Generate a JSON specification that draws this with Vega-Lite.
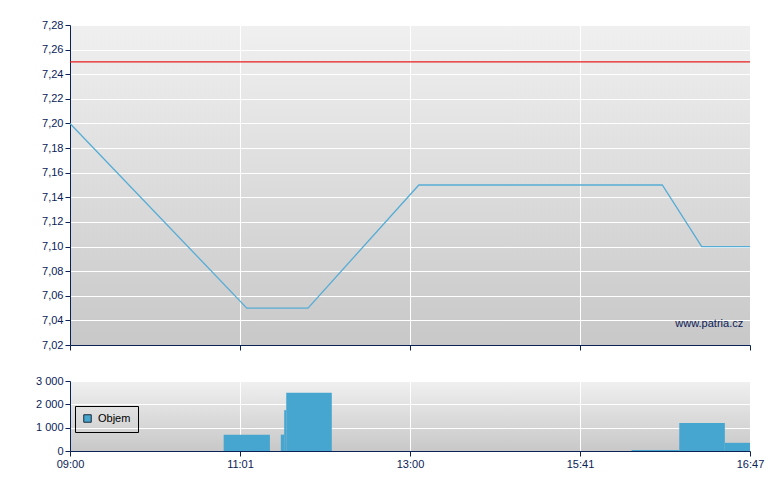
{
  "$schema": "https://vega.github.io/schema/vega-lite/v6.json",
  "background": "#ffffff",
  "padding": {"left": 34, "top": 19, "right": 5, "bottom": 5},
  "spacing": 24,
  "config": {
    "font": "Liberation Sans",
    "view": {"stroke": null},
    "axis": {
      "domainColor": "#0b2257",
      "tickColor": "#0b2257",
      "labelColor": "#0b2257",
      "labelFont": "Liberation Sans",
      "labelFontSize": 11,
      "labelOverlap": false,
      "labelFlush": false,
      "gridColor": "#ffffff",
      "gridOpacity": 1,
      "gridWidth": 1,
      "tickSize": 5,
      "domainWidth": 1,
      "title": null
    }
  },
  "datasets": {
    "price": [
      {"pos": 0, "price": 7.20},
      {"pos": 26.0, "price": 7.05},
      {"pos": 35.0, "price": 7.05},
      {"pos": 51.3, "price": 7.15},
      {"pos": 87.1, "price": 7.15},
      {"pos": 92.9, "price": 7.10},
      {"pos": 100, "price": 7.10}
    ],
    "volume": [
      {"start": 22.6, "end": 29.4, "volume": 700},
      {"start": 31.0, "end": 31.5, "volume": 700},
      {"start": 31.5, "end": 31.8, "volume": 1750},
      {"start": 31.8, "end": 38.5, "volume": 2500},
      {"start": 82.6, "end": 89.6, "volume": 40},
      {"start": 89.6, "end": 96.3, "volume": 1200},
      {"start": 96.3, "end": 100, "volume": 350}
    ]
  },
  "resolve": {"legend": {"color": "independent"}},
  "vconcat": [
    {
      "width": 680,
      "height": 320,
      "view": {
        "stroke": null,
        "fill": {"gradient": "linear", "x1": 0, "y1": 0, "x2": 0, "y2": 1,
          "stops": [{"offset": 0, "color": "#f0f0f0"}, {"offset": 1, "color": "#c8c8c8"}]}
      },
      "layer": [
        {
          "data": {"name": "price"},
          "mark": {"type": "line", "color": "#55acd5", "strokeWidth": 1.3},
          "encoding": {
            "x": {"field": "pos", "type": "quantitative",
              "scale": {"domain": [0, 100], "nice": false, "zero": false},
              "axis": {"values": [0, 25, 50, 75, 100], "tickCount": 20, "labels": false, "grid": true, "minExtent": 5, "maxExtent": 5}},
            "y": {"field": "price", "type": "quantitative",
              "scale": {"domain": [7.02, 7.28], "nice": false, "zero": false},
              "axis": {"values": [7.02, 7.04, 7.06, 7.08, 7.10, 7.12, 7.14, 7.16, 7.18, 7.20, 7.22, 7.24, 7.26, 7.28],
                "tickCount": 30,
                "labelExpr": "replace(format(datum.value, '.2f'), '.', ',')",
                "grid": true, "minExtent": 36, "maxExtent": 36}}
          }
        },
        {
          "data": {"values": [{"limit": 7.25}]},
          "mark": {"type": "rule", "color": "#e61e1e", "strokeWidth": 1.1},
          "encoding": {"y": {"field": "limit", "type": "quantitative"}}
        },
        {
          "data": {"values": [{"label": "www.patria.cz"}]},
          "mark": {"type": "text", "align": "right", "baseline": "middle", "color": "#0b2257", "fontSize": 11, "font": "Liberation Sans"},
          "encoding": {
            "x": {"datum": 99.0, "type": "quantitative"},
            "y": {"datum": 7.037, "type": "quantitative"},
            "text": {"field": "label"}
          }
        }
      ]
    },
    {
      "width": 680,
      "height": 70,
      "view": {
        "stroke": null,
        "fill": {"gradient": "linear", "x1": 0, "y1": 0, "x2": 0, "y2": 1,
          "stops": [{"offset": 0, "color": "#f0f0f0"}, {"offset": 1, "color": "#c8c8c8"}]}
      },
      "data": {"name": "volume"},
      "mark": {"type": "rect"},
      "encoding": {
        "x": {"field": "start", "type": "quantitative",
          "scale": {"domain": [0, 100], "nice": false, "zero": false},
          "axis": {"values": [0, 25, 50, 75, 100], "tickCount": 20, "grid": true, "labelPadding": 2,
            "labelExpr": "datum.value == 0 ? '09:00' : datum.value == 25 ? '11:01' : datum.value == 50 ? '13:00' : datum.value == 75 ? '15:41' : '16:47'"}},
        "x2": {"field": "end"},
        "y": {"field": "volume", "type": "quantitative",
          "scale": {"domain": [0, 3000], "nice": false},
          "axis": {"values": [0, 1000, 2000, 3000], "tickCount": 10,
            "labelExpr": "replace(format(datum.value, ','), ',', ' ')",
            "grid": true, "minExtent": 36, "maxExtent": 36}},
        "y2": {"datum": 0},
        "color": {"datum": "Objem", "type": "nominal",
          "scale": {"range": ["#46a6cf"]},
          "legend": {"title": null, "orient": "none", "legendX": 5, "legendY": 25,
            "strokeColor": "#000000", "padding": 7, "symbolType": "square", "symbolSize": 56,
            "symbolStrokeColor": "#1a2a3a", "symbolStrokeWidth": 1, "symbolOpacity": 1,
            "labelFontSize": 11, "labelFont": "Liberation Sans", "labelColor": "#000000", "labelOffset": 5}}
      }
    }
  ]
}
